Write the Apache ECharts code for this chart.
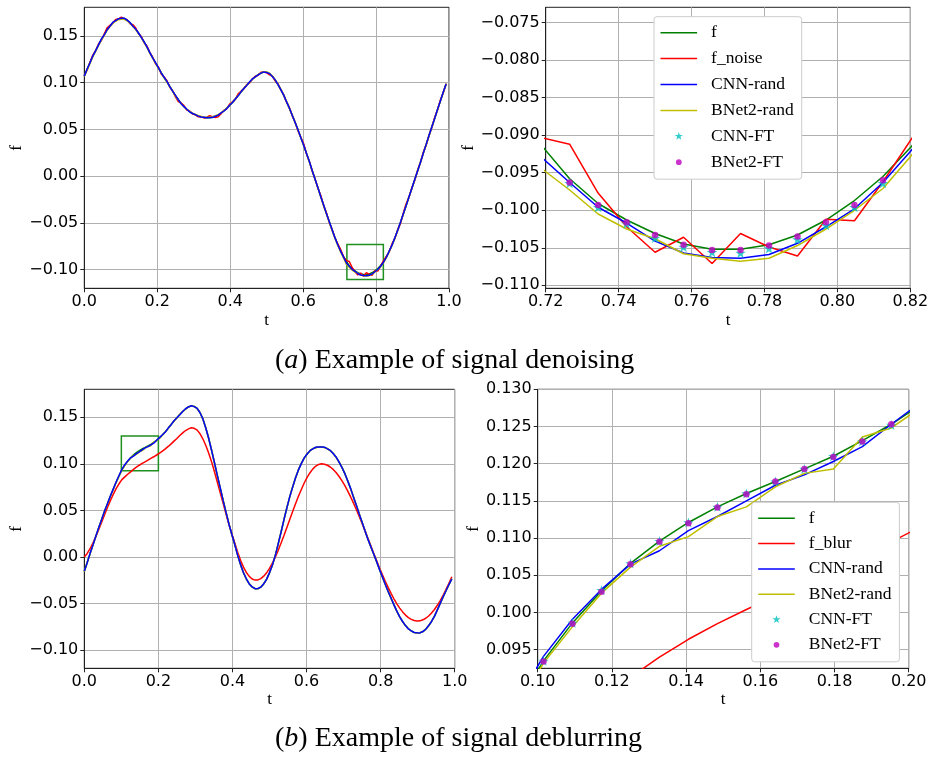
<!DOCTYPE html>
<html>
<head>
<meta charset="utf-8">
<script src="https://cdn.jsdelivr.net/npm/echarts@6/dist/echarts.min.js"></script>
<style>
  html, body { margin: 0; padding: 0; background: #ffffff; }
  #chart { width: 929px; height: 758px; }
</style>
</head>
<body>
<div id="chart"></div>
<script>
// Signals are sampled on a uniform grid t = k/128, k = 0..127.
const N = 128;
const t = Array.from({ length: N }, (_, k) => k / N);

// ---- (a) denoising ----
const denoiseF = [
  0.1073,0.1144,0.1214,0.1283,0.1345,0.1405,0.1462,0.1515,0.1565,0.1606,
  0.1642,0.1667,0.1683,0.1690,0.1686,0.1670,0.1643,0.1610,0.1573,0.1531,
  0.1487,0.1435,0.1380,0.1322,0.1267,0.1213,0.1160,0.1108,0.1057,0.1010,
  0.0960,0.0910,0.0862,0.0818,0.0778,0.0743,0.0713,0.0689,0.0670,0.0655,
  0.0643,0.0634,0.0628,0.0625,0.0626,0.0631,0.0640,0.0654,0.0673,0.0697,
  0.0725,0.0756,0.0789,0.0825,0.0862,0.0900,0.0937,0.0973,0.1007,0.1037,
  0.1063,0.1085,0.1102,0.1113,0.1112,0.1096,0.1067,0.1028,0.0980,0.0925,
  0.0863,0.0796,0.0725,0.0651,0.0574,0.0495,0.0413,0.0330,0.0243,0.0153,
  0.0060,-0.0033,-0.0125,-0.0218,-0.0310,-0.0400,-0.0488,-0.0576,-0.0658,-0.0733,
  -0.0801,-0.0861,-0.0913,-0.0958,-0.0991,-0.1013,-0.1031,-0.1045,-0.1052,-0.1052,
  -0.1046,-0.1033,-0.1013,-0.0987,-0.0955,-0.0915,-0.0864,-0.0804,-0.0736,-0.0660,
  -0.0578,-0.0491,-0.0401,-0.0310,-0.0218,-0.0126,-0.0035,0.0059,0.0153,0.0247,
  0.0341,0.0435,0.0529,0.0622,0.0715,0.0807,0.0898,0.0988
];
const denoiseNoisy = [
  0.1076,0.1136,0.1219,0.1295,0.1341,0.1414,0.1451,0.1519,0.1586,0.1612,
  0.1633,0.1675,0.1680,0.1700,0.1680,0.1672,0.1631,0.1621,0.1587,0.1526,
  0.1493,0.1426,0.1393,0.1320,0.1272,0.1203,0.1168,0.1092,0.1061,0.1021,
  0.0953,0.0913,0.0847,0.0798,0.0783,0.0755,0.0707,0.0698,0.0666,0.0657,
  0.0635,0.0637,0.0623,0.0631,0.0646,0.0635,0.0627,0.0636,0.0667,0.0704,
  0.0722,0.0770,0.0794,0.0821,0.0880,0.0909,0.0935,0.0979,0.0999,0.1040,
  0.1068,0.1078,0.1111,0.1115,0.1107,0.1084,0.1071,0.1019,0.0987,0.0922,
  0.0869,0.0791,0.0733,0.0647,0.0577,0.0485,0.0417,0.0346,0.0237,0.0158,
  0.0052,-0.0030,-0.0129,-0.0207,-0.0315,-0.0393,-0.0497,-0.0572,-0.0664,-0.0725,
  -0.0786,-0.0865,-0.0903,-0.0912,-0.0977,-0.1022,-0.1056,-0.1036,-0.1071,-0.1031,
  -0.1049,-0.1061,-0.1012,-0.1014,-0.0962,-0.0905,-0.0858,-0.0812,-0.0724,-0.0665,
  -0.0574,-0.0505,-0.0392,-0.0293,-0.0221,-0.0121,-0.0044,0.0065,0.0149,0.0257,
  0.0334,0.0438,0.0523,0.0630,0.0711,0.0818,0.0893,0.0990
];
const denoiseCnnRand = [
  0.1070,0.1146,0.1213,0.1287,0.1343,0.1405,0.1465,0.1511,0.1566,0.1604,
  0.1644,0.1664,0.1683,0.1689,0.1689,0.1668,0.1644,0.1606,0.1575,0.1531,
  0.1484,0.1436,0.1383,0.1321,0.1265,0.1215,0.1160,0.1105,0.1058,0.1014,
  0.0958,0.0910,0.0864,0.0817,0.0775,0.0744,0.0715,0.0687,0.0670,0.0658,
  0.0642,0.0632,0.0629,0.0625,0.0628,0.0628,0.0641,0.0653,0.0676,0.0697,
  0.0723,0.0758,0.0788,0.0826,0.0859,0.0902,0.0937,0.0971,0.1008,0.1040,
  0.1062,0.1083,0.1102,0.1115,0.1109,0.1097,0.1066,0.1030,0.0980,0.0923,
  0.0866,0.0795,0.0726,0.0649,0.0574,0.0497,0.0410,0.0331,0.0242,0.0156,
  0.0058,-0.0033,-0.0124,-0.0219,-0.0308,-0.0403,-0.0488,-0.0575,-0.0660,-0.0736,
  -0.0805,-0.0865,-0.0929,-0.0963,-0.0996,-0.1017,-0.1041,-0.1057,-0.1063,-0.1064,
  -0.1059,-0.1044,-0.1022,-0.0998,-0.0963,-0.0920,-0.0868,-0.0803,-0.0738,-0.0658,
  -0.0579,-0.0491,-0.0398,-0.0312,-0.0217,-0.0127,-0.0033,0.0059,0.0150,0.0248,
  0.0340,0.0437,0.0529,0.0620,0.0716,0.0806,0.0900,0.0986
];
const denoiseBnetRand = [
  0.1067,0.1140,0.1206,0.1278,0.1338,0.1402,0.1456,0.1506,0.1560,0.1599,
  0.1634,0.1657,0.1674,0.1679,0.1677,0.1662,0.1637,0.1603,0.1569,0.1525,
  0.1484,0.1430,0.1378,0.1316,0.1263,0.1210,0.1154,0.1106,0.1052,0.1007,
  0.0956,0.0908,0.0857,0.0815,0.0777,0.0745,0.0716,0.0693,0.0675,0.0661,
  0.0647,0.0639,0.0631,0.0629,0.0632,0.0636,0.0647,0.0658,0.0678,0.0700,
  0.0729,0.0758,0.0792,0.0826,0.0864,0.0900,0.0939,0.0974,0.1005,0.1038,
  0.1060,0.1085,0.1104,0.1116,0.1116,0.1101,0.1070,0.1032,0.0982,0.0928,
  0.0864,0.0798,0.0725,0.0652,0.0572,0.0495,0.0412,0.0327,0.0243,0.0151,
  0.0056,-0.0035,-0.0128,-0.0223,-0.0313,-0.0406,-0.0492,-0.0583,-0.0666,-0.0743,
  -0.0813,-0.0875,-0.0944,-0.0973,-0.1005,-0.1025,-0.1038,-0.1058,-0.1064,-0.1068,
  -0.1064,-0.1047,-0.1025,-0.1000,-0.0971,-0.0927,-0.0873,-0.0810,-0.0741,-0.0663,
  -0.0582,-0.0493,-0.0404,-0.0311,-0.0221,-0.0128,-0.0039,0.0057,0.0150,0.0246,
  0.0337,0.0433,0.0526,0.0621,0.0711,0.0805,0.0895,0.0983
];
// fine-tuned outputs, samples k = 93..104
const denoiseFtStart = 93;
const denoiseCnnFt  = [-0.0964,-0.0996,-0.1018,-0.1037,-0.1049,-0.1056,-0.1057,-0.1051,-0.1039,-0.1020,-0.0996,-0.0964];
const denoiseBnetFt = [-0.0963,-0.0993,-0.1016,-0.1033,-0.1046,-0.1053,-0.1053,-0.1047,-0.1035,-0.1016,-0.0993,-0.0960];

// ---- (b) deblurring ----
const deblurF = [
  -0.0157,-0.0061,0.0035,0.0130,0.0223,0.0314,0.0403,0.0489,0.0572,0.0652,
  0.0729,0.0802,0.0871,0.0935,0.0986,0.1029,0.1066,0.1096,0.1121,0.1142,
  0.1160,0.1176,0.1193,0.1210,0.1231,0.1253,0.1279,0.1310,0.1345,0.1383,
  0.1422,0.1460,0.1495,0.1530,0.1562,0.1590,0.1612,0.1623,0.1617,0.1595,
  0.1550,0.1480,0.1385,0.1271,0.1143,0.1008,0.0871,0.0736,0.0604,0.0475,
  0.0352,0.0238,0.0134,0.0020,-0.0083,-0.0169,-0.0237,-0.0289,-0.0323,-0.0341,
  -0.0341,-0.0324,-0.0290,-0.0239,-0.0171,-0.0087,0.0015,0.0138,0.0268,0.0400,
  0.0528,0.0645,0.0752,0.0850,0.0935,0.1005,0.1062,0.1107,0.1141,0.1163,
  0.1176,0.1181,0.1181,0.1177,0.1163,0.1143,0.1112,0.1072,0.1022,0.0965,
  0.0897,0.0820,0.0736,0.0647,0.0555,0.0462,0.0370,0.0280,0.0193,0.0110,
  0.0032,-0.0050,-0.0132,-0.0213,-0.0293,-0.0370,-0.0444,-0.0513,-0.0584,-0.0644,
  -0.0696,-0.0738,-0.0772,-0.0796,-0.0811,-0.0818,-0.0815,-0.0803,-0.0776,-0.0740,
  -0.0694,-0.0637,-0.0570,-0.0498,-0.0430,-0.0363,-0.0298,-0.0235
];
const deblurBlurred = [
  0.0000,0.0037,0.0088,0.0150,0.0219,0.0294,0.0372,0.0452,0.0530,0.0604,
  0.0672,0.0733,0.0786,0.0830,0.0860,0.0888,0.0913,0.0940,0.0964,0.0985,
  0.1004,0.1022,0.1040,0.1058,0.1076,0.1095,0.1115,0.1137,0.1161,0.1187,
  0.1215,0.1244,0.1273,0.1305,0.1333,0.1358,0.1376,0.1387,0.1382,0.1362,
  0.1323,0.1267,0.1197,0.1114,0.1021,0.0912,0.0800,0.0686,0.0572,0.0459,
  0.0349,0.0245,0.0150,0.0050,-0.0037,-0.0109,-0.0167,-0.0209,-0.0237,-0.0249,
  -0.0247,-0.0233,-0.0207,-0.0171,-0.0124,-0.0068,-0.0002,0.0069,0.0149,0.0231,
  0.0316,0.0402,0.0488,0.0571,0.0651,0.0725,0.0794,0.0854,0.0905,0.0946,
  0.0976,0.0994,0.1000,0.0996,0.0985,0.0966,0.0940,0.0907,0.0867,0.0820,
  0.0768,0.0710,0.0647,0.0580,0.0509,0.0435,0.0358,0.0280,0.0201,0.0121,
  0.0040,-0.0038,-0.0116,-0.0190,-0.0261,-0.0328,-0.0392,-0.0450,-0.0504,-0.0550,
  -0.0591,-0.0625,-0.0652,-0.0671,-0.0684,-0.0689,-0.0687,-0.0676,-0.0659,-0.0635,
  -0.0603,-0.0565,-0.0520,-0.0469,-0.0412,-0.0349,-0.0284,-0.0214
];
const deblurCnnRand = [
  -0.0155,-0.0062,0.0038,0.0128,0.0224,0.0316,0.0402,0.0492,0.0572,0.0654,
  0.0728,0.0805,0.0875,0.0941,0.0991,0.1031,0.1065,0.1083,0.1110,0.1129,
  0.1150,0.1171,0.1185,0.1203,0.1223,0.1253,0.1282,0.1312,0.1343,0.1384,
  0.1421,0.1463,0.1495,0.1528,0.1563,0.1592,0.1611,0.1624,0.1615,0.1596,
  0.1549,0.1482,0.1382,0.1272,0.1143,0.1010,0.0870,0.0739,0.0602,0.0476,
  0.0351,0.0240,0.0134,0.0018,-0.0082,-0.0170,-0.0235,-0.0291,-0.0322,-0.0342,
  -0.0339,-0.0325,-0.0289,-0.0241,-0.0169,-0.0087,0.0014,0.0140,0.0266,0.0401,
  0.0527,0.0648,0.0750,0.0851,0.0935,0.1003,0.1064,0.1106,0.1142,0.1161,
  0.1178,0.1181,0.1180,0.1179,0.1161,0.1144,0.1111,0.1074,0.1022,0.0963,
  0.0898,0.0819,0.0739,0.0645,0.0556,0.0461,0.0372,0.0280,0.0191,0.0111,
  0.0031,-0.0048,-0.0134,-0.0212,-0.0293,-0.0371,-0.0442,-0.0515,-0.0583,-0.0645,
  -0.0694,-0.0738,-0.0774,-0.0795,-0.0812,-0.0816,-0.0817,-0.0802,-0.0777,-0.0738,
  -0.0694,-0.0639,-0.0569,-0.0499,-0.0428,-0.0364,-0.0297,-0.0237
];
const deblurBnetRand = [
  -0.0160,-0.0059,0.0033,0.0131,0.0220,0.0313,0.0401,0.0489,0.0569,0.0651,
  0.0725,0.0800,0.0865,0.0932,0.0981,0.1026,0.1061,0.1089,0.1102,0.1129,
  0.1142,0.1169,0.1187,0.1193,0.1236,0.1248,0.1275,0.1307,0.1346,0.1381,
  0.1424,0.1459,0.1492,0.1532,0.1561,0.1588,0.1613,0.1621,0.1617,0.1592,
  0.1552,0.1478,0.1386,0.1270,0.1146,0.1006,0.0872,0.0733,0.0606,0.0474,
  0.0355,0.0236,0.0135,0.0022,-0.0085,-0.0168,-0.0240,-0.0289,-0.0325,-0.0340,
  -0.0344,-0.0322,-0.0291,-0.0238,-0.0173,-0.0085,0.0013,0.0139,0.0267,0.0403,
  0.0526,0.0645,0.0754,0.0847,0.0936,0.1004,0.1064,0.1105,0.1141,0.1164,
  0.1174,0.1182,0.1180,0.1174,0.1164,0.1142,0.1114,0.1070,0.1023,0.0964,
  0.0899,0.0817,0.0736,0.0649,0.0554,0.0463,0.0368,0.0283,0.0192,0.0112,
  0.0030,-0.0050,-0.0131,-0.0215,-0.0291,-0.0371,-0.0447,-0.0512,-0.0585,-0.0642,
  -0.0698,-0.0737,-0.0773,-0.0794,-0.0814,-0.0818,-0.0813,-0.0804,-0.0775,-0.0742,
  -0.0692,-0.0638,-0.0569,-0.0500,-0.0430,-0.0361,-0.0299,-0.0234
];
// fine-tuned outputs, samples k = 13..25
const deblurFtStart = 13;
const deblurCnnFt  = [0.0935,0.0986,0.1030,0.1066,0.1096,0.1121,0.1142,0.1160,0.1176,0.1193,0.1210,0.1230,0.1252];
const deblurBnetFt = [0.0934,0.0985,0.1028,0.1065,0.1095,0.1120,0.1141,0.1159,0.1176,0.1193,0.1209,0.1230,0.1253];

// axis ranges and ticks
const fullRange = [0, 1];
const denoiseRangeY = [-0.1199, 0.1806];
const deblurRangeY  = [-0.1197, 0.1801];
const denoiseWindow = { x: [0.72, 0.82], y: [-0.1104, -0.07295] };
const deblurWindow  = { x: [0.10, 0.20], y: [0.0925, 0.1300] };
const yTicksDenoise     = [-0.10, -0.05, 0.00, 0.05, 0.10, 0.15];
const yTicksDeblur      = [-0.10, -0.05, 0.00, 0.05, 0.10, 0.15];
const yTicksDenoiseZoom = [-0.110, -0.105, -0.100, -0.095, -0.090, -0.085, -0.080, -0.075];
const yTicksDeblurZoom  = [0.095, 0.100, 0.105, 0.110, 0.115, 0.120, 0.125, 0.130];

const legendDenoise = ['f', 'f_noise', 'CNN-rand', 'BNet2-rand', 'CNN-FT', 'BNet2-FT'];
const legendDeblur  = ['f', 'f_blur', 'CNN-rand', 'BNet2-rand', 'CNN-FT', 'BNet2-FT'];
const captionA = '({i|a}) Example of signal denoising';
const captionB = '({i|b}) Example of signal deblurring';

// ---- styling ----
const SERIF = '"Liberation Serif", "DejaVu Serif", serif';
const SANS = '"DejaVu Sans", sans-serif';
const C = {
  f: '#008000', noisy: '#ff0000', cnn: '#0000ff', bnet: '#bfbf00',
  cnnFt: '#00bfbf', bnetFt: '#bf00bf', box: '#1f8f1f',
  grid: '#b0b0b0', spine: '#222222'
};
const LW = 1.5;
const STAR = 'path://M10,0L7.755,6.91L0.489,6.91L6.367,11.18L4.122,18.09L10,13.82L15.878,18.09L13.633,11.18L19.511,6.91L12.245,6.91Z';
// legend icons drawn inside a 37x14 frame (corner moves fix the frame size)
const ICON_LINE = 'path://M0,0M37,14M0,6.25h37v1.5h-37z';
const ICON_STAR = 'path://M0,0M37,14M18.5,2.6L19.488,5.641L22.695,5.641L20.101,7.525L21.089,10.566L18.5,8.682L15.911,10.566L16.899,7.525L14.305,5.641L17.512,5.641Z';
const ICON_DOT  = 'path://M0,0M37,14M15.6,7a2.9,2.9 0 1,0 5.8,0a2.9,2.9 0 1,0 -5.8,0Z';

const fmt = d => v => (v < 0 ? '\u2212' : '') + Math.abs(v).toFixed(d);
const pairs = (vals, start = 0) => vals.map((v, i) => [t[start + i], v]);

const grids = [
  { left: 84.3,  top: 7.3,   width: 364.7, height: 281 },
  { left: 545.7, top: 7.3,   width: 364.6, height: 281 },
  { left: 84.3,  top: 389.3, width: 370.4, height: 279 },
  { left: 537.7, top: 389.3, width: 371,   height: 279 }
].map(g => Object.assign(g, {
  show: true, borderColor: C.spine, borderWidth: 1, backgroundColor: '#ffffff',
  containLabel: false, outerBoundsMode: 'none'
}));

const axisCommon = {
  type: 'value',
  nameLocation: 'middle',
  nameTextStyle: { fontFamily: SERIF, fontSize: 17, color: '#000' },
  axisLine: { show: true, onZero: false, lineStyle: { color: C.spine, width: 1 } },
  splitLine: { show: true, lineStyle: { color: C.grid, width: 1 } },
  splitArea: { show: false }
};
function xAxis(gi, range, interval, dec, gap) {
  return Object.assign({}, axisCommon, {
    gridIndex: gi, min: range[0], max: range[1], interval,
    name: 't', nameGap: gap,
    axisTick: { show: true, length: 4, lineStyle: { color: C.spine } },
    axisLabel: { show: true, margin: 6, fontFamily: SANS, fontSize: 16, color: '#000',
                 formatter: fmt(dec), hideOverlap: false, showMinLabel: true, showMaxLabel: true }
  });
}
function yAxis(gi, range, ticks, dec, gap) {
  return Object.assign({}, axisCommon, {
    gridIndex: gi, min: range[0], max: range[1],
    name: 'f', nameRotate: 90, nameGap: gap,
    axisTick: { show: true, length: 4, customValues: ticks, lineStyle: { color: C.spine } },
    axisLabel: { show: true, margin: 6, fontFamily: SANS, fontSize: 16, color: '#000',
                 customValues: ticks, formatter: fmt(dec), hideOverlap: false }
  });
}

function line(name, vals, color, gi, extra) {
  return Object.assign({
    type: 'line', name, data: pairs(vals), xAxisIndex: gi, yAxisIndex: gi,
    symbol: 'none', showSymbol: false, clip: true, animation: false,
    lineStyle: { color, width: LW }, itemStyle: { color },
    emphasis: { disabled: true }, z: 2
  }, extra || {});
}
function dots(name, vals, start, color, symbol, size, gi) {
  return {
    type: 'scatter', name, data: pairs(vals, start), xAxisIndex: gi, yAxisIndex: gi,
    symbol, symbolSize: size, symbolKeepAspect: true, clip: true, animation: false,
    itemStyle: { color, borderWidth: 0 }, emphasis: { disabled: true }, z: 4
  };
}
function zoomBox(win) {
  return {
    markArea: {
      silent: true, label: { show: false }, emphasis: { disabled: true },
      itemStyle: { color: 'rgba(0,0,0,0)', borderColor: C.box, borderWidth: 1.5 },
      data: [[{ coord: [win.x[0], win.y[1]] }, { coord: [win.x[1], win.y[0]] }]]
    }
  };
}
function legend(names, left, top, gap) {
  const icons = [ICON_LINE, ICON_LINE, ICON_LINE, ICON_LINE, ICON_STAR, ICON_DOT];
  return {
    orient: 'vertical', left, top, itemWidth: 36.6, itemHeight: 14, itemGap: gap,
    padding: [7, 8, 8, 6.5], selectedMode: false, z: 10,
    backgroundColor: '#ffffff', borderColor: '#cccccc', borderWidth: 1, borderRadius: 3,
    itemStyle: { borderWidth: 0 },
    textStyle: { fontFamily: SERIF, fontSize: 17.5, color: '#000', padding: [0, 0, 0, 9] },
    data: names.map((n, i) => ({ name: n, icon: icons[i] }))
  };
}
function caption(text, left, top) {
  return {
    text, left, top, padding: 0,
    textStyle: {
      fontFamily: SERIF, fontSize: 28, fontWeight: 'normal', color: '#000',
      rich: { i: { fontFamily: SERIF, fontSize: 28, fontStyle: 'italic', color: '#000' } }
    }
  };
}

const option = {
  animation: false,
  backgroundColor: '#ffffff',
  textStyle: { fontFamily: SANS },
  title: [caption(captionA, 275, 347), caption(captionB, 275, 725)],
  legend: [legend(legendDenoise, 654, 16.7, 7.9), legend(legendDeblur, 751.7, 502.3, 7.3)],
  grid: grids,
  xAxis: [
    xAxis(0, fullRange, 0.2, 1, 24),
    xAxis(1, denoiseWindow.x, 0.02, 2, 24),
    xAxis(2, fullRange, 0.2, 1, 22),
    xAxis(3, deblurWindow.x, 0.02, 2, 22)
  ],
  yAxis: [
    yAxis(0, denoiseRangeY, yTicksDenoise, 2, 57),
    yAxis(1, denoiseWindow.y, yTicksDenoiseZoom, 3, 69),
    yAxis(2, deblurRangeY, yTicksDeblur, 2, 57),
    yAxis(3, deblurWindow.y, yTicksDeblurZoom, 3, 56)
  ],
  series: [
    // (a) full signal
    line('f', denoiseF, C.f, 0, zoomBox(denoiseWindow)),
    line('f_noise', denoiseNoisy, C.noisy, 0),
    line('BNet2-rand', denoiseBnetRand, C.bnet, 0),
    line('CNN-rand', denoiseCnnRand, C.cnn, 0, { z: 3 }),
    // (a) zoomed window
    line('f', denoiseF, C.f, 1),
    line('f_noise', denoiseNoisy, C.noisy, 1),
    line('CNN-rand', denoiseCnnRand, C.cnn, 1),
    line('BNet2-rand', denoiseBnetRand, C.bnet, 1),
    dots('CNN-FT', denoiseCnnFt, denoiseFtStart, C.cnnFt, STAR, 10.5, 1),
    dots('BNet2-FT', denoiseBnetFt, denoiseFtStart, C.bnetFt, 'circle', 6.5, 1),
    // (b) full signal
    line('f', deblurF, C.f, 2, zoomBox(deblurWindow)),
    line('f_blur', deblurBlurred, C.noisy, 2),
    line('BNet2-rand', deblurBnetRand, C.bnet, 2),
    line('CNN-rand', deblurCnnRand, C.cnn, 2, { z: 3 }),
    // (b) zoomed window
    line('f', deblurF, C.f, 3),
    line('f_blur', deblurBlurred, C.noisy, 3),
    line('CNN-rand', deblurCnnRand, C.cnn, 3),
    line('BNet2-rand', deblurBnetRand, C.bnet, 3),
    dots('CNN-FT', deblurCnnFt, deblurFtStart, C.cnnFt, STAR, 10.5, 3),
    dots('BNet2-FT', deblurBnetFt, deblurFtStart, C.bnetFt, 'circle', 6.5, 3)
  ]
};

const chart = echarts.init(document.getElementById('chart'), null, { renderer: 'canvas' });
chart.setOption(option);
</script>
</body>
</html>
